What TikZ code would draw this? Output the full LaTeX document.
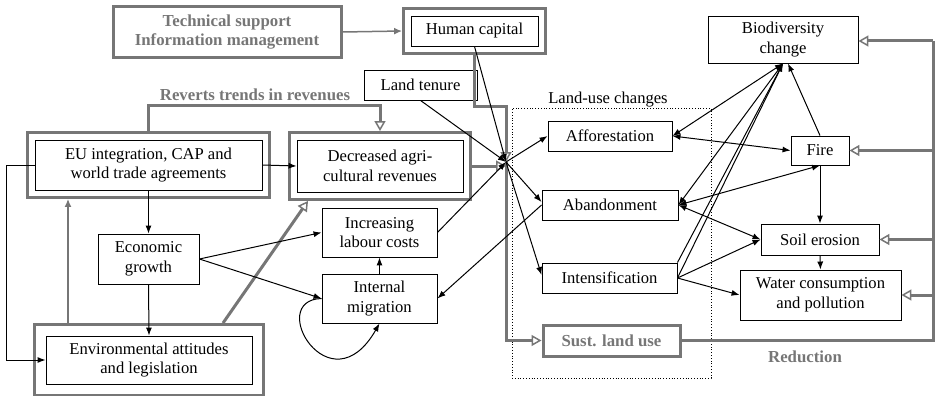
\documentclass[tikz,border=0pt]{standalone}
\usepackage{fontspec}
\setmainfont{Liberation Serif}
\usetikzlibrary{arrows.meta,fit,calc}
\definecolor{fg}{RGB}{118,118,118}
\begin{document}
\begin{tikzpicture}[x=1pt,y=-1pt,
  font=\fontsize{16.6}{19.5}\selectfont,
  box/.style={draw, line width=0.9pt, inner sep=0pt, align=center},
  gbox/.style={draw=fg, line width=3pt, inner sep=0pt, align=center, text=fg, font=\fontsize{16.8}{19.5}\selectfont\bfseries},
  gframe/.style={draw=fg, line width=3pt, inner sep=#1},
  gframe/.default=7pt,
  glabel/.style={text=fg, font=\fontsize{16.8}{19.5}\selectfont\bfseries, inner sep=0pt},
  arr/.style={line width=1pt, -{Latex[length=8pt,width=6pt]}},
  darr/.style={line width=1pt, {Latex[length=8pt,width=6pt]}-{Latex[length=8pt,width=6pt]}},
  gline/.style={draw=fg, line width=3pt, -{Triangle[open,length=10pt,width=11pt,line width=1.5pt]}},
  gthin/.style={draw=fg, line width=1.5pt, -{Latex[length=8pt,width=7pt]}},
]
\useasboundingbox (0,0) rectangle (937,396);

% left part
\node[gbox, minimum width=228, minimum height=51] (tech) at (227,32) {Technical support\\Information management};
\node[box, minimum width=127, minimum height=30] (hc) at (474.5,31) {Human capital};
\node[gframe, fit=(hc)] (hcO) {};
\node[box, minimum width=113, minimum height=30] (lt) at (420.5,85) {Land tenure};
\node[box, minimum width=227, minimum height=50] (eu) at (148.5,165) {EU integration, CAP and\\world trade agreements};
\node[gframe, fit=(eu)] (euO) {};
\node[box, minimum width=166, minimum height=52] (dec) at (380,166) {Decreased agri-\\cultural revenues};
\node[gframe, fit=(dec)] (decO) {};
\node[box, minimum width=101, minimum height=50] (econ) at (148.5,259) {Economic\\growth};
\node[box, minimum width=115, minimum height=49] (lab) at (379.5,232.5) {Increasing\\labour costs};
\node[box, minimum width=115, minimum height=49] (mig) at (379.5,298.5) {Internal\\migration};
\node[box, minimum width=206, minimum height=48] (env) at (149,360) {Environmental attitudes\\and legislation};
\node[gframe=11pt, fit=(env)] (envO) {};
\node[glabel] (rev) at (255,95) {Reverts trends in revenues};

% land-use changes
\node[draw, dotted, line width=0.8pt, minimum width=199, minimum height=270, inner sep=0pt] (luc) at (611.5,243) {};
\node[inner sep=0pt] (luclab) at (608,100) {Land-use changes};
\node[box, minimum width=124, minimum height=30] (aff) at (610,136) {Afforestation};
\node[box, minimum width=136, minimum height=30] (aba) at (610,205) {Abandonment};
\node[box, minimum width=135, minimum height=30] (int) at (609.5,278) {Intensification};
\node[gbox, minimum width=137, minimum height=31] (sust) at (611.5,340.5) {Sust. land use};

% right part
\node[box, minimum width=150, minimum height=47] (bio) at (783,39.5) {Biodiversity\\change};
\node[box, minimum width=58, minimum height=29] (fire) at (820,150.5) {Fire};
\node[box, minimum width=118, minimum height=31] (soil) at (820,239.5) {Soil erosion};
\node[box, minimum width=161, minimum height=50] (water) at (820.5,295) {Water consumption\\and pollution};
\node[glabel] (red) at (805,357) {Reduction};

\coordinate (hub) at (506,162);
\coordinate (rt) at (933,41);
\coordinate (rb) at (933,340.5);

% gray connectors
\draw[gthin] (tech.east) -- (hcO.west);
\draw[gline] (euO.north) -- ++(0,-26) -| (decO.north);
\draw[gline] ([xshift=74pt]envO.north) -- ([xshift=-72pt]decO.south);
\draw[gthin] ([xshift=-81pt]envO.north) -- ([xshift=-81pt]envO.north |- euO.south);
\draw[gline] (hcO.south) -- ++(0,52) -| (hub);
\draw[gline] (decO.east) -- (decO.east -| hub);
\draw[gline] (hub) |- (sust.west);
\draw[draw=fg, line width=3pt] (sust.east) -- (rb) -- (rt);
\draw[gline] (rt) -- (rt -| bio.east);
\draw[gline] (rb |- fire.east) -- (fire.east);
\draw[gline] (rb |- soil.east) -- (soil.east);
\draw[gline] (rb |- water.east) -- (water.east);

% black connectors, left
\draw[arr] (eu.east) -- (dec.west);
\draw[arr] (eu.west) -- ++(-28,0) |- (env.west);
\draw[arr] (eu.south) -- (econ.north);
\draw[arr] (econ.south) -- (env.north);
\draw[arr] (econ.east) -- (lab.west);
\draw[arr] (econ.east) -- (mig.west);
\draw[arr] (mig.north) -- (lab.south);
\draw[arr] (mig.west) .. controls (265,300) and (330,410) .. (mig.south);
\draw[arr] (lab.east) -- (hub);
\draw[arr] (lt.south) -- (hub);
\draw[arr] (hc.south) -- (hub);
\draw[arr] (aba.west) -- (mig.east);

% black connectors, land use
\draw[arr] (hub) -- (aff.west);
\draw[arr] (hub) -- ([yshift=3pt]aba.west);
\draw[arr] (hub) -- ([yshift=3pt]int.west);

% black connectors, right
\draw[darr] (aff.east) -- (bio.south);
\draw[darr] (aba.east) -- (bio.south);
\draw[arr] (int.east) -- (bio.south);
\draw[arr] (int.north east) -- (bio.south);
\draw[arr] (fire.north) -- ([xshift=5pt]bio.south);
\draw[darr] (aff.east) -- (fire.west);
\draw[darr] (aba.east) -- (fire.south);
\draw[darr] (aba.east) -- (soil.west);
\draw[arr] (int.east) -- (soil.west);
\draw[arr] (int.east) -- (water.west);
\draw[arr] (fire.south) -- (soil.north);
\draw[arr] (soil.south) -- (water.north);
\end{tikzpicture}
\end{document}
